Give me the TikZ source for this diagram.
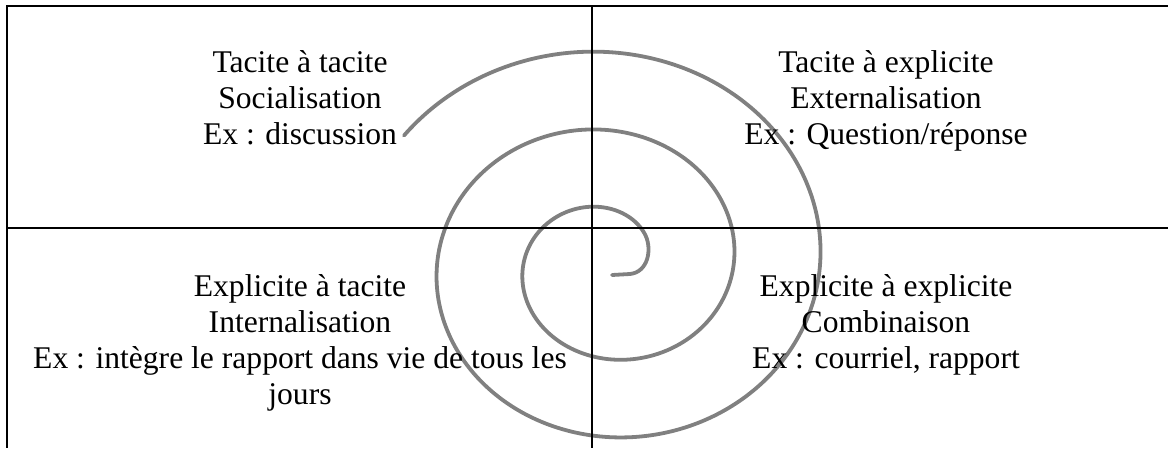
\documentclass[tikz,border=0pt]{standalone}
\usepackage{fontspec}
\setmainfont{Liberation Serif}
\tikzset{
  gridline/.style={line width=1.6pt, black},
  spiralline/.style={line width=3.8pt, black!50, line cap=round, line join=round},
  label/.style={anchor=base, inner sep=0pt, font=\fontsize{31.6}{36.4}\selectfont, text=black}
}
\begin{document}
\begin{tikzpicture}[x=1pt,y=-1pt]
\useasboundingbox (0,0) rectangle (1168,448);
% spiral
\coordinate (hookend) at (612,275);
\draw[spiralline] plot[domain=-0.96:13.466, samples=500, smooth, variable=\t]
  ({607+1.107*(212-12.414*\t)*sin(\t r)}, {264-(212-12.414*\t)*cos(\t r)})
  .. controls (652,250) and (648,272) .. (630,274) -- (hookend);
% grid
\coordinate (TL) at (7,6);
\coordinate (TR) at (1168,6);
\coordinate (BL) at (7,448);
\coordinate (MT) at (592,6);
\coordinate (MB) at (592,448);
\coordinate (ML) at (7,228);
\coordinate (MR) at (1168,228);
\draw[gridline] (TR) -- (TL) -- (BL);
\draw[gridline] (MT) -- (MB);
\draw[gridline] (ML) -- (MR);
% top left
\node[label] (tl1) at (300,72) {Tacite à tacite};
\node[label] (tl2) at (300,108) {Socialisation};
\node[label] (tl3) at (300,144) {Ex : discussion};
% top right
\node[label] (tr1) at (886,72) {Tacite à explicite};
\node[label] (tr2) at (886,108) {Externalisation};
\node[label] (tr3) at (886,144) {Ex : Question/réponse};
% bottom left
\node[label] (bl1) at (300,296) {Explicite à tacite};
\node[label] (bl2) at (300,332) {Internalisation};
\node[label] (bl3) at (300,368) {Ex : intègre le rapport dans vie de tous les};
\node[label] (bl4) at (300,404) {jours};
% bottom right
\node[label] (br1) at (886,296) {Explicite à explicite};
\node[label] (br2) at (886,332) {Combinaison};
\node[label] (br3) at (886,368) {Ex : courriel, rapport};
\end{tikzpicture}
\end{document}
